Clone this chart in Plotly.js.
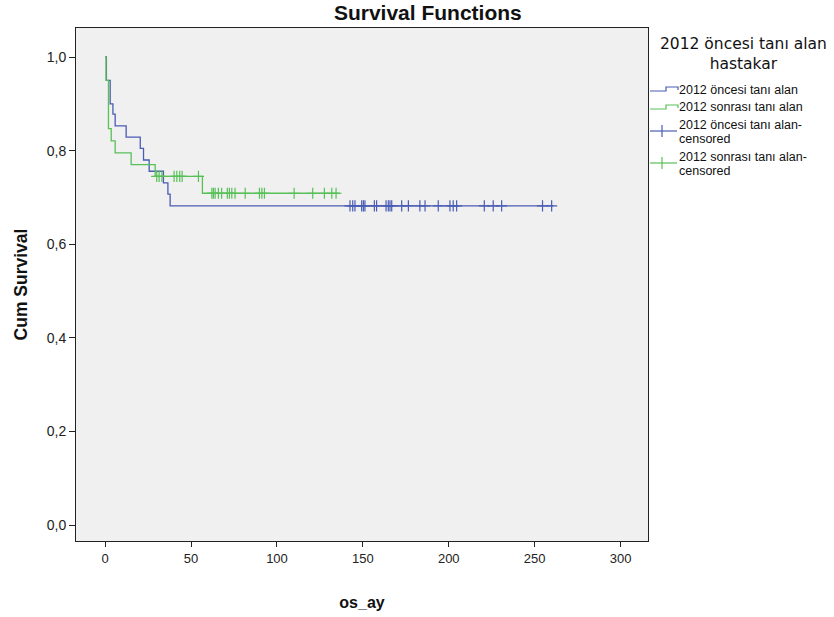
<!DOCTYPE html>
<html>
<head>
<meta charset="utf-8">
<script src="https://cdn.plot.ly/plotly-3.0.1.min.js"></script>
<style>
  html, body { margin: 0; padding: 0; background: #ffffff; }
  #chart { width: 834px; height: 617px; }
</style>
</head>
<body>
<div id="chart"></div>
<script>
// Kaplan-Meier step curves (time in months, cumulative survival)
const legendTitle = ["2012 öncesi tanı alan", "hastakar"];
const groupNames = ["2012 öncesi tanı alan", "2012 sonrası tanı alan"];

const beforeTimes = [0, 0.7, 2.9, 4.5, 5.8, 12.2, 20.4, 22.3, 25.6, 33.9, 36.5, 37.8, 261];
const beforeSurv  = [1, 0.95, 0.90, 0.878, 0.853, 0.829, 0.805, 0.78, 0.756, 0.731, 0.707, 0.682, 0.682];
const beforeCensored = [142.5, 144.1, 145.4, 149.3, 150.3, 151.2, 156.7, 158.0, 163.5, 164.8,
  165.8, 166.8, 172.6, 176.5, 183.2, 186.2, 193.9, 200.7, 202.6, 204.6, 220.7, 225.9, 230.8,
  254.6, 259.9];

const afterTimes = [0, 0.5, 1.9, 3.5, 5.8, 15.1, 29.1, 56.6, 136.6];
const afterSurv  = [1, 0.95, 0.847, 0.821, 0.795, 0.77, 0.745, 0.709, 0.709];
const afterCensored = [30.0, 31.4, 33.0, 40.1, 41.7, 43.4, 44.8, 54.3, 62.1, 63.0, 64.0, 65.9,
  67.8, 71.1, 72.3, 73.7, 75.6, 81.5, 89.8, 91.2, 92.7, 110.0, 120.8, 127.6, 131.9, 134.4];

const xTicks = [0, 50, 100, 150, 200, 250, 300];
const yTicks = [0, 0.2, 0.4, 0.6, 0.8, 1.0];

const blue = "#4a5cb4";
const green = "#58c058";
const FONT = "'Liberation Sans', Arial, sans-serif";
const WIDE = "'DejaVu Sans', Verdana, sans-serif";

// plot box in pixels, used to place the side legend
const W = 834, H = 617;
const M = { l: 76, r: 186, t: 28, b: 76 };
const PW = W - M.l - M.r, PH = H - M.t - M.b;
const px = x => (x - M.l) / PW;
const py = y => (H - M.b - y) / PH;

// survival value of a step curve at time t
function survAt(times, surv, t) {
  let s = surv[0];
  for (let i = 0; i < times.length; i++) {
    if (times[i] <= t) s = surv[i]; else break;
  }
  return s;
}

const traces = [
  {
    x: beforeTimes, y: beforeSurv, name: groupNames[0],
    mode: "lines", line: { shape: "hv", color: blue, width: 1.3 }
  },
  {
    x: afterTimes, y: afterSurv, name: groupNames[1],
    mode: "lines", line: { shape: "hv", color: green, width: 1.3 }
  },
  {
    x: beforeCensored, y: beforeCensored.map(t => survAt(beforeTimes, beforeSurv, t)),
    name: groupNames[0] + "-censored",
    mode: "markers",
    marker: { symbol: "cross-thin-open", size: 8, color: blue, line: { color: blue, width: 1.2 } }
  },
  {
    x: afterCensored, y: afterCensored.map(t => survAt(afterTimes, afterSurv, t)),
    name: groupNames[1] + "-censored",
    mode: "markers",
    marker: { symbol: "cross-thin-open", size: 8, color: green, line: { color: green, width: 1.2 } }
  }
];

// side legend: step icons for the curves, tick icons for censored cases
function stepIcon(y, color) {
  const path = `M ${px(650)} ${py(y)} L ${px(666)} ${py(y)} L ${px(666)} ${py(y - 4)} ` +
               `L ${px(678)} ${py(y - 4)} L ${px(678)} ${py(y - 1)}`;
  return { type: "path", xref: "paper", yref: "paper", path: path,
           line: { color: color, width: 1.2 } };
}
function censorIcon(y, color) {
  return [
    { type: "line", xref: "paper", yref: "paper", x0: px(650), x1: px(677), y0: py(y), y1: py(y),
      line: { color: color, width: 1.2 } },
    { type: "line", xref: "paper", yref: "paper", x0: px(662), x1: px(662), y0: py(y - 6), y1: py(y + 6),
      line: { color: color, width: 1.2 } }
  ];
}
function label(text, x, y, font, anchor) {
  return { text: text, xref: "paper", yref: "paper", x: px(x), y: py(y),
           xanchor: anchor || "left", yanchor: "middle", showarrow: false,
           align: "center", font: font };
}
const itemFont = { family: FONT, size: 12.5, color: "#111" };
const titleFont = { family: WIDE, size: 15.5, color: "#111" };

const shapes = [
  stepIcon(91, blue),
  stepIcon(109, green),
  ...censorIcon(131, blue),
  ...censorIcon(163, green)
];
const annotations = [
  label(legendTitle.join("<br>"), 743, 54, titleFont, "center"),
  label(groupNames[0], 677, 90, itemFont),
  label(groupNames[1], 677, 107, itemFont),
  label(groupNames[0] + "-", 677, 124.5, itemFont),
  label("censored", 677, 138.5, itemFont),
  label(groupNames[1] + "-", 677, 156.5, itemFont),
  label("censored", 677, 170.5, itemFont)
];

const layout = {
  width: W, height: H,
  paper_bgcolor: "#ffffff",
  plot_bgcolor: "#f0f0f0",
  separators: ",.",
  font: { family: FONT, color: "#222222", size: 13 },
  margin: M,
  showlegend: false,
  title: {
    text: "<b>Survival Functions</b>",
    font: { family: FONT, size: 21, color: "#111111" },
    x: 0.513, xref: "container", xanchor: "center",
    y: 1 - 13 / H, yref: "container", yanchor: "middle"
  },
  xaxis: {
    range: [-17, 316], tickvals: xTicks, ticks: "outside", ticklen: 5, tickcolor: "#222",
    showline: true, mirror: true, linecolor: "#222", linewidth: 1,
    showgrid: false, zeroline: false,
    tickfont: { family: FONT, size: 13, color: "#222" },
    title: { text: "<b>os_ay</b>", font: { family: FONT, size: 16, color: "#111" }, standoff: 32 }
  },
  yaxis: {
    range: [-0.034, 1.062], tickvals: yTicks, tickformat: ".1f", ticks: "outside", ticklen: 6,
    tickcolor: "#222",
    showline: true, mirror: true, linecolor: "#222", linewidth: 1,
    showgrid: false, zeroline: false,
    tickfont: { family: FONT, size: 14, color: "#222" },
    title: { text: "<b>Cum Survival</b>", font: { family: FONT, size: 17.5, color: "#111" }, standoff: 14 }
  },
  shapes: shapes,
  annotations: annotations
};

Plotly.newPlot("chart", traces, layout, { displayModeBar: false, staticPlot: true });
</script>
</body>
</html>
